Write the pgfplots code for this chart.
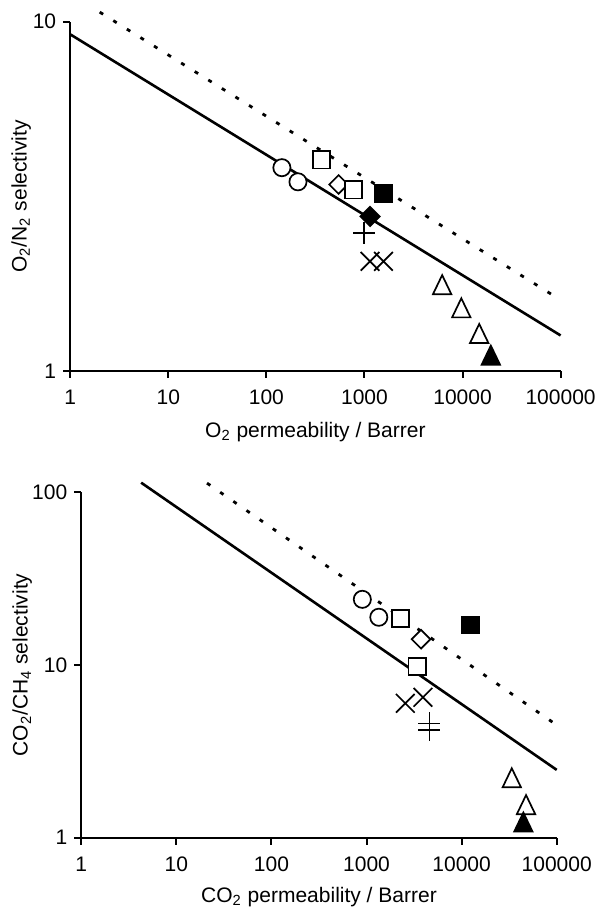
\documentclass[border=0pt]{standalone}
\usepackage{fontspec}
\setmainfont{Liberation Sans}
\usepackage{pgfplots}
\pgfplotsset{compat=1.18}

\tikzset{
  mybound/.style={black, line width=1.3pt},
  myboundnew/.style={black, line width=1.4pt, dash pattern=on 2pt off 6pt},
}
\pgfplotsset{
  ocirc/.style={only marks, mark=*, mark size=4.3pt, mark options={draw=black, fill=white, line width=0.85pt}},
  osq/.style={only marks, mark=square*, mark size=4.3pt, mark options={draw=black, fill=white, line width=0.85pt}},
  fsq/.style={only marks, mark=square*, mark size=4.3pt, mark options={draw=black, fill=black, line width=0.85pt}},
  odia/.style={only marks, mark=square*, mark size=3.3pt, mark options={rotate=45, draw=black, fill=white, line width=0.85pt}},
  fdia/.style={only marks, mark=square*, mark size=3.4pt, mark options={rotate=45, draw=black, fill=black, line width=0.85pt}},
  otri/.style={only marks, mark=triangle*, mark size=5.3pt, mark options={yscale=1.2, draw=black, fill=white, line width=0.85pt}},
  ftri/.style={only marks, mark=triangle*, mark size=5.3pt, mark options={yscale=1.2, draw=black, fill=black, line width=0.85pt}},
  xm/.style={only marks, mark=x, mark size=6.6pt, mark options={draw=black, line width=0.85pt}},
  pm/.style={only marks, mark=+, mark size=5.5pt, mark options={draw=black, line width=0.9pt}},
}

\begin{document}
\begin{tikzpicture}
\path[use as bounding box] (0,0) rectangle (300pt,454pt);

% O2/N2
\begin{axis}[
    xmode=log, ymode=log,
    scale only axis,
    axis lines=left,
    axis line style={-, line width=1pt},
    tick style={line width=1pt, black},
    tick align=outside,
    major tick length=3.5pt,
    xminorticks=false, yminorticks=false,
    xmin=1, xmax=100000,
    xtick={1,10,100,1000,10000,100000},
    xticklabels={1,10,100,1000,10000,100000},
    ticklabel style={font=\fontsize{10.5}{12}\selectfont},
    xticklabel style={yshift=-2.5pt},
    label style={font=\fontsize{10.5}{12}\selectfont},
    clip=false,
    at={(35.1pt,268.5pt)}, anchor=south west,
    width=245.2pt, height=174.65pt,
    ymin=1, ymax=10,
    ytick={1,10}, yticklabels={1,10},
    xlabel={O\textsubscript{2} permeability / Barrer},
    ylabel={O\textsubscript{2}/N\textsubscript{2} selectivity},
    xlabel style={at={(axis description cs:0.5,-0.1735)}, anchor=center},
    ylabel style={at={(axis description cs:-0.0999,0.5)}, anchor=center},
  ]
  \addplot[mybound] coordinates {(1,9.2) (100000,1.264)};
  \addplot[myboundnew] coordinates {(2,10.65) (85900,1.64)};
  \addplot[ocirc] coordinates {(144,3.82) (210,3.48)};
  \addplot[odia] coordinates {(545,3.42)};
  \addplot[osq] coordinates {(364,4.02) (774,3.30)};
  \addplot[fsq] coordinates {(1563,3.23)};
  \addplot[pm] coordinates {(996,2.48)};
  \addplot[fdia] coordinates {(1140,2.77)};
  \addplot[xm] coordinates {(1140,2.06) (1563,2.06)};
  \addplot[otri] coordinates {(6200,1.73) (9720,1.485) (14800,1.254)};
  \addplot[ftri] coordinates {(19440,1.087)};
\end{axis}

% CO2/CH4
\begin{axis}[
    xmode=log, ymode=log,
    scale only axis,
    axis lines=left,
    axis line style={-, line width=1pt},
    tick style={line width=1pt, black},
    tick align=outside,
    major tick length=3.5pt,
    xminorticks=false, yminorticks=false,
    xmin=1, xmax=100000,
    xtick={1,10,100,1000,10000,100000},
    xticklabels={1,10,100,1000,10000,100000},
    ticklabel style={font=\fontsize{10.5}{12}\selectfont},
    xticklabel style={yshift=-2.5pt},
    label style={font=\fontsize{10.5}{12}\selectfont},
    clip=false,
    at={(40.65pt,35.15pt)}, anchor=south west,
    width=237.7pt, height=172.7pt,
    ymin=1, ymax=100,
    ytick={1,10,100}, yticklabels={1,10,100},
    xlabel={CO\textsubscript{2} permeability / Barrer},
    ylabel={CO\textsubscript{2}/CH\textsubscript{4} selectivity},
    xlabel style={at={(axis description cs:0.5,-0.1717)}, anchor=center},
    ylabel style={at={(axis description cs:-0.1241,0.5)}, anchor=center},
  ]
  \addplot[mybound] coordinates {(4.26,113.7) (100000,2.47)};
  \addplot[myboundnew] coordinates {(21,113) (100000,4.49)};
  \addplot[ocirc] coordinates {(903,24.0) (1346,18.9)};
  \addplot[osq] coordinates {(2285,18.6) (3405,9.77)};
  \addplot[odia] coordinates {(3740,14.1)};
  \addplot[fsq] coordinates {(12500,17.05)};
  \addplot[xm] coordinates {(2555,6.0) (3920,6.5)};
  \addplot[pm] coordinates {(4585,4.59) (4585,4.20)};
  \addplot[otri] coordinates {(33700,2.13) (47600,1.49)};
  \addplot[ftri] coordinates {(44600,1.18)};
\end{axis}
\end{tikzpicture}
\end{document}
